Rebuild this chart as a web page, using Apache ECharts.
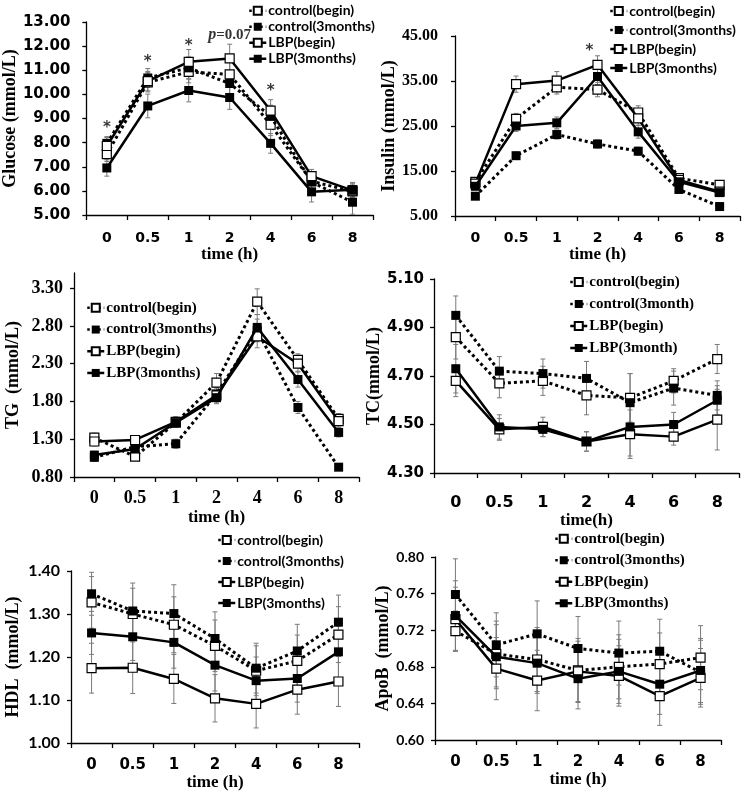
<!DOCTYPE html>
<html><head><meta charset="utf-8">
<script src="https://cdn.jsdelivr.net/npm/echarts@6/dist/echarts.min.js"></script>
<style>html,body{margin:0;padding:0;background:#fff}#c{width:744px;height:795px}</style>
</head><body><div id="c"></div>
<script>
// ---------- categories & names ----------
const times = ['0', '0.5', '1', '2', '4', '6', '8'];
const namesA = ['control(begin)', 'control(3months)', 'LBP(begin)', 'LBP(3months)'];
const namesTC = ['control(begin)', 'control(3month)', 'LBP(begin)', 'LBP(3month)'];

// ---------- Glucose ----------
const gluCtrlBegin = [7.52, 10.50, 10.93, 10.83, 8.74, 6.40, 5.98];
const gluCtrl3m    = [7.97, 10.68, 11.10, 10.45, 9.10, 6.37, 5.53];
const gluLbpBegin  = [7.86, 10.55, 11.35, 11.49, 9.33, 6.61, 6.02];
const gluLbp3m     = [6.95, 9.52, 10.16, 9.87, 7.97, 5.96, 6.05];
const gluErrCtrlBegin = [0.30, 0.40, 0.45, 0.50, 0.45, 0.30, 0.30];
const gluErrCtrl3m    = [0.28, 0.39, 0.45, 0.45, 0.45, 0.30, 0.50];
const gluErrLbpBegin  = [0.35, 0.40, 0.51, 0.59, 0.45, 0.28, 0.30];
const gluErrLbp3m     = [0.34, 0.49, 0.47, 0.49, 0.41, 0.42, 0.30];
const gluMarks = [[0, 8.61, '*'], [1, 11.34, '*'], [2, 12.0, '*'], [3, 12.46, 'p'], [4, 10.14, '*']];

// ---------- Insulin ----------
const insCtrlBegin = [12.6, 26.6, 33.6, 33.1, 28.0, 13.4, 11.9];
const insCtrl3m    = [9.4, 18.4, 23.1, 21.0, 19.4, 10.9, 7.1];
const insLbpBegin  = [12.2, 34.3, 35.1, 38.6, 26.7, 13.0, 10.4];
const insLbp3m     = [11.6, 25.0, 25.7, 36.0, 23.7, 12.6, 10.2];
const insErrCtrlBegin = [0.8, 1.2, 1.5, 1.6, 1.5, 0.8, 0.6];
const insErrCtrl3m    = [0.6, 0.8, 1.0, 0.9, 0.9, 0.7, 0.5];
const insErrLbpBegin  = [0.8, 1.8, 2.0, 2.0, 1.5, 0.8, 0.6];
const insErrLbp3m     = [0.7, 1.2, 1.3, 1.8, 1.4, 0.7, 0.6];
const insMarks = [[3, 41.7, '*']];

// ---------- TG ----------
const tgCtrlBegin = [1.32, 1.07, 1.52, 2.05, 3.12, 2.35, 1.57];
const tgCtrl3m    = [1.06, 1.20, 1.24, 1.90, 2.74, 1.72, 0.93];
const tgLbpBegin  = [1.27, 1.29, 1.53, 1.88, 2.66, 2.30, 1.54];
const tgLbp3m     = [1.09, 1.17, 1.52, 1.85, 2.78, 2.09, 1.39];
const tgErrCtrlBegin = [0.06, 0.05, 0.06, 0.12, 0.17, 0.08, 0.07];
const tgErrCtrl3m    = [0.05, 0.05, 0.06, 0.08, 0.15, 0.08, 0.04];
const tgErrLbpBegin  = [0.06, 0.05, 0.07, 0.10, 0.15, 0.10, 0.08];
const tgErrLbp3m     = [0.05, 0.05, 0.06, 0.08, 0.17, 0.10, 0.06];

// ---------- TC ----------
const tcCtrlBegin = [4.86, 4.67, 4.68, 4.62, 4.61, 4.68, 4.77];
const tcCtrl3m    = [4.95, 4.72, 4.71, 4.69, 4.59, 4.65, 4.62];
const tcLbpBegin  = [4.68, 4.48, 4.49, 4.43, 4.46, 4.45, 4.52];
const tcLbp3m     = [4.73, 4.49, 4.48, 4.43, 4.49, 4.50, 4.60];
const tcErrCtrlBegin = [0.09, 0.06, 0.06, 0.08, 0.10, 0.05, 0.06];
const tcErrCtrl3m    = [0.08, 0.06, 0.06, 0.07, 0.12, 0.07, 0.06];
const tcErrLbpBegin  = [0.065, 0.045, 0.04, 0.04, 0.10, 0.035, 0.125];
const tcErrLbp3m     = [0.10, 0.05, 0.03, 0.04, 0.12, 0.05, 0.06];

// ---------- HDL ----------
const hdlCtrlBegin = [1.327, 1.300, 1.275, 1.226, 1.168, 1.191, 1.252];
const hdlCtrl3m    = [1.347, 1.307, 1.301, 1.243, 1.174, 1.214, 1.281];
const hdlLbpBegin  = [1.174, 1.175, 1.149, 1.104, 1.091, 1.124, 1.143];
const hdlLbp3m     = [1.256, 1.247, 1.234, 1.181, 1.145, 1.150, 1.212];
const hdlErrCtrlBegin = [0.060, 0.060, 0.065, 0.060, 0.058, 0.060, 0.065];
const hdlErrCtrl3m    = [0.050, 0.065, 0.067, 0.062, 0.058, 0.062, 0.063];
const hdlErrLbpBegin  = [0.058, 0.060, 0.057, 0.055, 0.056, 0.057, 0.058];
const hdlErrLbp3m     = [0.050, 0.055, 0.060, 0.060, 0.055, 0.055, 0.060];

// ---------- ApoB ----------
const apoCtrlBegin = [0.719, 0.694, 0.688, 0.676, 0.680, 0.683, 0.690];
const apoCtrl3m    = [0.759, 0.704, 0.716, 0.700, 0.695, 0.697, 0.674];
const apoLbpBegin  = [0.732, 0.678, 0.665, 0.675, 0.670, 0.648, 0.668];
const apoLbp3m     = [0.736, 0.691, 0.684, 0.667, 0.675, 0.661, 0.676];
const apoErrCtrlBegin = [0.022, 0.036, 0.035, 0.035, 0.035, 0.034, 0.035];
const apoErrCtrl3m    = [0.039, 0.035, 0.036, 0.035, 0.035, 0.035, 0.035];
const apoErrLbpBegin  = [0.035, 0.034, 0.033, 0.033, 0.033, 0.032, 0.032];
const apoErrLbp3m     = [0.038, 0.035, 0.033, 0.033, 0.035, 0.033, 0.035];

// ---------- layout / styling ----------
const SANS = 'DejaVu Sans', SERIF = 'Liberation Serif', HUM = 'Lato';
const panels = [
  {grid: {left: 79, top: 22, width: 294, height: 193}, names: namesA,
   vals: [gluCtrlBegin, gluCtrl3m, gluLbpBegin, gluLbp3m], errs: [gluErrCtrlBegin, gluErrCtrl3m, gluErrLbpBegin, gluErrLbp3m],
   y: {min: 5, max: 13, interval: 1}, yName: 'Glucose (mmol/L)', yGap: 56, yFont: [SANS, 15], yMargin: 16,
   xName: 'time (h)', xGap: 28, xFont: [SANS, 14], xMargin: 16,
   legend: {left: 248, top: 2, pitch: 17.5, gap: -1.5, font: HUM, size: 14}, marks: gluMarks},
  {grid: {left: 455, top: 36, width: 285, height: 180}, names: namesA,
   vals: [insCtrlBegin, insCtrl3m, insLbpBegin, insLbp3m], errs: [insErrCtrlBegin, insErrCtrl3m, insErrLbpBegin, insErrLbp3m],
   y: {min: 5, max: 45, interval: 10}, yName: 'Insulin (mmol/L)', yGap: 56, yFont: [SERIF, 16], yMargin: 17,
   xName: 'time (h)', xGap: 28, xFont: [SANS, 14], xMargin: 15,
   legend: {left: 609, top: 1.5, pitch: 19, gap: 0, font: HUM, size: 14}, marks: insMarks, markDx: -8},
  {grid: {left: 74, top: 273, width: 285, height: 204}, names: namesA,
   vals: [tgCtrlBegin, tgCtrl3m, tgLbpBegin, tgLbp3m], errs: [tgErrCtrlBegin, tgErrCtrl3m, tgErrLbpBegin, tgErrLbp3m],
   y: {min: 0.8, max: 3.5, interval: 0.5}, yName: 'TG  (mmol/L)', yGap: 52, yFont: [SERIF, 18], yMargin: 11,
   xName: 'time (h)', xGap: 32, xFont: [SERIF, 18], xMargin: 12,
   legend: {left: 86, top: 297, pitch: 21.7, gap: 0, font: SERIF, size: 15}},
  {grid: {left: 434, top: 279, width: 305, height: 194}, names: namesTC,
   vals: [tcCtrlBegin, tcCtrl3m, tcLbpBegin, tcLbp3m], errs: [tcErrCtrlBegin, tcErrCtrl3m, tcErrLbpBegin, tcErrLbp3m],
   y: {min: 4.3, max: 5.1, interval: 0.2}, yName: 'TC(mmol/L)', yGap: 43, yFont: [SANS, 15], yMargin: 10,
   xName: 'time(h)', xGap: 36, xFont: [SANS, 16], xMargin: 22,
   legend: {left: 569, top: 271, pitch: 22, gap: 0, font: SERIF, size: 15}},
  {grid: {left: 71, top: 571, width: 288, height: 172}, names: namesA,
   vals: [hdlCtrlBegin, hdlCtrl3m, hdlLbpBegin, hdlLbp3m], errs: [hdlErrCtrlBegin, hdlErrCtrl3m, hdlErrLbpBegin, hdlErrLbp3m],
   y: {min: 1.0, max: 1.4, interval: 0.1}, yName: 'HDL  (mmol/L)', yGap: 49, yFont: [HUM, 16], yMargin: 11,
   xName: 'time (h)', xGap: 30, xFont: [SANS, 15], xMargin: 15,
   legend: {left: 217, top: 529.5, pitch: 21, gap: 0, font: HUM, size: 14}},
  {grid: {left: 435, top: 557, width: 286, height: 183}, names: namesA,
   vals: [apoCtrlBegin, apoCtrl3m, apoLbpBegin, apoLbp3m], errs: [apoErrCtrlBegin, apoErrCtrl3m, apoErrLbpBegin, apoErrLbp3m],
   y: {min: 0.6, max: 0.8, interval: 0.04}, yName: 'ApoB  (mmol/L)', yGap: 43, yFont: [HUM, 14], yMargin: 11,
   xName: 'time (h)', xGap: 31, xFont: [SANS, 15], xMargin: 15,
   legend: {left: 554, top: 528, pitch: 21.5, gap: 0, font: SERIF, size: 15}}
];

const seriesStyle = [
  {dotted: true, open: true},
  {dotted: true, open: false},
  {dotted: false, open: true},
  {dotted: false, open: false}
];

const option = {animation: false, backgroundColor: '#fff', grid: [], xAxis: [], yAxis: [], legend: [], series: []};
const axisLine = {show: true, lineStyle: {color: '#000', width: 1.3}};

panels.forEach((p, i) => {
  option.grid.push(Object.assign({containLabel: false}, p.grid));
  option.xAxis.push({
    gridIndex: i, type: 'category', data: times, boundaryGap: true,
    axisLine: axisLine, axisTick: {show: true, length: 5, lineStyle: {color: '#000', width: 1.3}},
    axisLabel: {color: '#000', fontFamily: p.xFont[0], fontSize: p.xFont[1], fontWeight: 'bold', margin: p.xMargin, interval: 0},
    splitLine: {show: false},
    name: p.xName, nameLocation: 'middle', nameGap: p.xGap,
    nameTextStyle: {color: '#000', fontFamily: SERIF, fontWeight: 'bold', fontSize: 17}
  });
  option.yAxis.push({
    gridIndex: i, type: 'value', min: p.y.min, max: p.y.max, interval: p.y.interval,
    axisLine: axisLine, axisTick: {show: true, length: 4, lineStyle: {color: '#000', width: 1.3}},
    splitLine: {show: false},
    axisLabel: {color: '#000', fontFamily: p.yFont[0], fontSize: p.yFont[1], fontWeight: 'bold', margin: p.yMargin,
      showMaxLabel: p.y.max === 3.5 ? false : true,
      formatter: v => v.toFixed(2)},
    name: p.yName, nameLocation: 'middle', nameGap: p.yGap,
    nameTextStyle: {color: '#000', fontFamily: SERIF, fontWeight: 'bold', fontSize: 18}
  });
  option.legend.push({
    orient: 'vertical', left: p.legend.left, top: p.legend.top, padding: 0,
    itemWidth: 17, itemHeight: 10, itemGap: p.legend.gap,
    selectedMode: false,
    data: p.names.map((n, j) => ({
      name: n,
      lineStyle: {color: '#000', width: 2.5, type: seriesStyle[j].dotted ? [2.5, 3] : 'solid', opacity: 1}
    })),
    textStyle: {color: '#000', fontFamily: p.legend.font, fontWeight: 'bold', fontSize: p.legend.size, lineHeight: p.legend.pitch, padding: [0, 0, 0, -3]}
  });
  // error bars
  p.vals.forEach((vals, j) => {
    const errData = vals.map((v, k) => [k, v - p.errs[j][k], v + p.errs[j][k]]);
    option.series.push({
      type: 'custom', xAxisIndex: i, yAxisIndex: i, silent: true, z: 1, data: errData,
      encode: {x: 0, y: [1, 2]},
      renderItem: (params, api) => {
        const k = api.value(0);
        const lo = api.coord([k, api.value(1)]);
        const hi = api.coord([k, api.value(2)]);
        const st = {stroke: '#7a7a7a', lineWidth: 1};
        const c = 2.5;
        return {type: 'group', children: [
          {type: 'line', shape: {x1: lo[0], y1: lo[1], x2: hi[0], y2: hi[1]}, style: st},
          {type: 'line', shape: {x1: lo[0] - c, y1: lo[1], x2: lo[0] + c, y2: lo[1]}, style: st},
          {type: 'line', shape: {x1: hi[0] - c, y1: hi[1], x2: hi[0] + c, y2: hi[1]}, style: st}
        ]};
      }
    });
  });
  // lines
  p.vals.forEach((vals, j) => {
    const s = seriesStyle[j];
    option.series.push({
      type: 'line', name: p.names[j], xAxisIndex: i, yAxisIndex: i, data: vals,
      symbol: 'rect', symbolSize: 9, showSymbol: true, z: 3 + j,
      lineStyle: {color: '#000', width: s.dotted ? 3 : 2.5, type: s.dotted ? [3, 3] : 'solid'},
      itemStyle: {color: s.open ? '#fff' : '#000', borderColor: '#000', borderWidth: s.open ? 1.2 : 0},
      emphasis: {disabled: true}
    });
  });
  // significance marks
  if (p.marks) {
    option.series.push({
      type: 'scatter', xAxisIndex: i, yAxisIndex: i, symbolSize: 1, silent: true, z: 10,
      itemStyle: {color: 'rgba(0,0,0,0)'},
      data: p.marks,
      label: {
        show: true, position: 'inside', offset: [p.markDx || 0, 0],
        formatter: prm => prm.value[2] === 'p' ? '{i|p}{n|=0.07}' : '{s|*}',
        rich: {
          i: {fontFamily: SERIF, fontStyle: 'italic', fontWeight: 'bold', fontSize: 16, color: '#000'},
          n: {fontFamily: SERIF, fontWeight: 'bold', fontSize: 15, color: '#000'},
          s: {fontFamily: SANS, fontWeight: 'bold', fontSize: 15, color: '#000'}
        }
      }
    });
  }
});

const chart = echarts.init(document.getElementById('c'), null, {renderer: 'canvas'});
chart.setOption(option);
</script>
</body></html>
